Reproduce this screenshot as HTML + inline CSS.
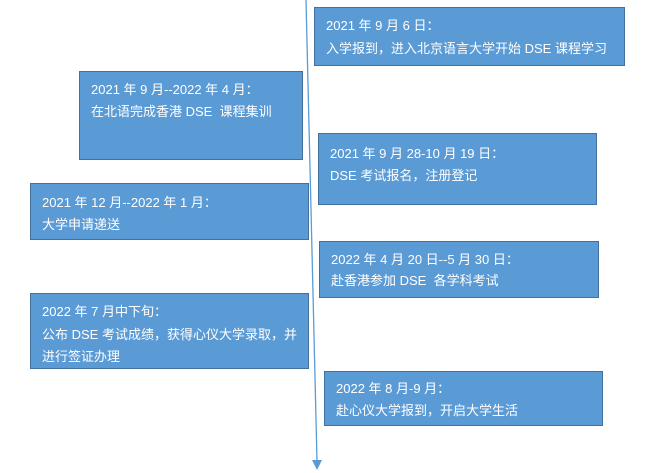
<!DOCTYPE html>
<html><head><meta charset="utf-8"><style>
body{margin:0;width:649px;height:473px;background:#fff;position:relative;overflow:hidden;font-family:"Liberation Sans","Noto Sans CJK SC",sans-serif;}
.b{position:absolute;background:#5b9bd5;border:1px solid #41719c;box-sizing:border-box;color:#fff;font-size:13px;}
.t{position:absolute;white-space:nowrap;line-height:16px;}
</style></head><body>
<svg width="649" height="473" style="position:absolute;left:0;top:0">
<line x1="306" y1="0" x2="317" y2="461" stroke="#5b9bd5" stroke-width="1.3"/>
<polygon points="312,460 322,460 317,470" fill="#5b9bd5"/>
</svg>
<div class="b" style="left:314px;top:7px;width:311px;height:59px"><div class="t" style="left:11px;top:10px">2021 年 9 月 6 日：</div><div class="t" style="left:11px;top:33px">入学报到，进入北京语言大学开始 DSE 课程学习</div></div>
<div class="b" style="left:79px;top:71px;width:224px;height:89px"><div class="t" style="left:11px;top:10px">2021 年 9 月--2022 年 4 月：</div><div class="t" style="left:11px;top:32px">在北语完成香港 DSE&nbsp; 课程集训</div></div>
<div class="b" style="left:318px;top:133px;width:279px;height:72px"><div class="t" style="left:11px;top:12px">2021 年 9 月 28-10 月 19 日：</div><div class="t" style="left:11px;top:34px">DSE 考试报名，注册登记</div></div>
<div class="b" style="left:30px;top:183px;width:279px;height:57px"><div class="t" style="left:11px;top:11px">2021 年 12 月--2022 年 1 月：</div><div class="t" style="left:11px;top:33px">大学申请递送</div></div>
<div class="b" style="left:319px;top:241px;width:280px;height:57px"><div class="t" style="left:11px;top:10px">2022 年 4 月 20 日--5 月 30 日：</div><div class="t" style="left:11px;top:31px">赴香港参加 DSE&nbsp; 各学科考试</div></div>
<div class="b" style="left:30px;top:293px;width:279px;height:76px"><div class="t" style="left:11px;top:10px">2022 年 7 月中下旬：</div><div class="t" style="left:11px;top:33px">公布 DSE 考试成绩，获得心仪大学录取，并</div><div class="t" style="left:11px;top:55px">进行签证办理</div></div>
<div class="b" style="left:324px;top:371px;width:279px;height:55px"><div class="t" style="left:11px;top:9px">2022 年 8 月-9 月：</div><div class="t" style="left:11px;top:31px">赴心仪大学报到，开启大学生活</div></div>
</body></html>
